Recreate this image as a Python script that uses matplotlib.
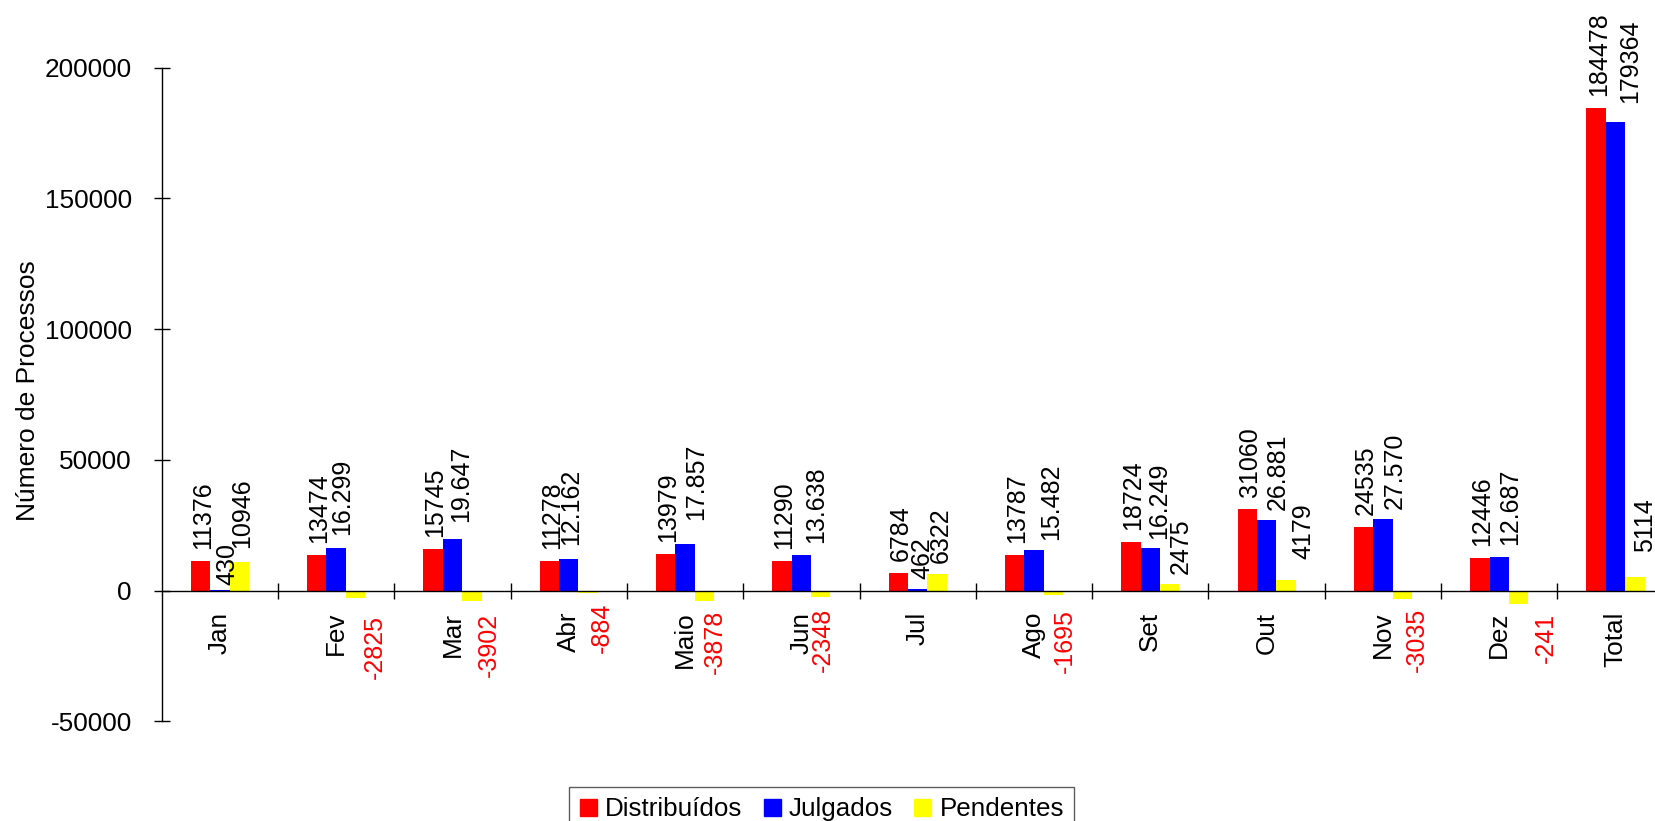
import numpy as np
import matplotlib
matplotlib.use('Agg')
import matplotlib.pyplot as plt
from matplotlib.patches import Patch
from matplotlib.ticker import FixedLocator, NullFormatter

plt.rcParams['font.family'] = ['Liberation Sans', 'DejaVu Sans']
plt.rcParams['axes.unicode_minus'] = False

# dados
meses = ['Jan', 'Fev', 'Mar', 'Abr', 'Maio', 'Jun', 'Jul', 'Ago', 'Set', 'Out', 'Nov', 'Dez', 'Total']
distribuidos = [11376, 13474, 15745, 11278, 13979, 11290, 6784, 13787, 18724, 31060, 24535, 12446, 184478]
julgados = [430, 16299, 19647, 12162, 17857, 13638, 462, 15482, 16249, 26881, 27570, 12687, 179364]
pendentes = [10946, -2825, -3902, -884, -3878, -2348, 6322, -1695, 2475, 4179, -3035, -5000, 5114]

rot_distribuidos = ['11376', '13474', '15745', '11278', '13979', '11290', '6784',
                    '13787', '18724', '31060', '24535', '12446', '184478']
rot_julgados = ['430', '16.299', '19.647', '12.162', '17.857', '13.638', '462',
                '15.482', '16.249', '26.881', '27.570', '12.687', '179364']
rot_pendentes = ['10946', '-2825', '-3902', '-884', '-3878', '-2348', '6322',
                 '-1695', '2475', '4179', '-3035', '-241', '5114']

# ajustes manuais dos rótulos (pixels): deslocamento lateral e distância da barra
dx_julg = [5, 3, 6, 0, 9, 12, 2, 15, 6, 9, 9, 8, 12]
gap_julg = [5, 13, 17, 14, 24, 12, 10, 10, 9, 10, 10, 12, 19]
dx_pend = [0, 17, 15, 11, 8, 0, 1, 9, 9, 15, 12, 25, 8]
gap_pend = [14, 17, 12, 10, 9, 11, 11, 14, 10, 21, 9, 9, 25]

DPI = 100
PX = 72 / DPI
FS_TICK = 18.8
FS_ROT = 18
SHIFT = 2.5

fig = plt.figure(figsize=(16.55, 8.21), dpi=DPI)
ax = fig.add_axes([161.7 / 1655, (821 - 721.4) / 821, 1512 / 1655, (721.4 - 67.7) / 821])

x = np.arange(len(meses))
w = 1 / 6
ax.bar(x - w, distribuidos, w, color='#FF0000', label='Distribuídos')
ax.bar(x, julgados, w, color='#0000FF', label='Julgados')
ax.bar(x + w, pendentes, w, color='#FFFF00', label='Pendentes')


def rotulo(xp, val, texto, dx, gap):
    if val >= 0:
        ax.annotate(texto, (xp, val), xytext=((dx + SHIFT) * PX, gap * PX),
                    textcoords='offset points', rotation=90, ha='center', va='bottom',
                    fontsize=FS_ROT, color='black')
    else:
        ax.annotate(texto, (xp, val), xytext=((dx + SHIFT) * PX, -gap * PX),
                    textcoords='offset points', rotation=90, ha='center', va='top',
                    fontsize=FS_ROT, color='#FF0000')


for i in range(len(meses)):
    rotulo(x[i] - w, distribuidos[i], rot_distribuidos[i], 0, 12)
    rotulo(x[i], julgados[i], rot_julgados[i], dx_julg[i], gap_julg[i])
    rotulo(x[i] + w, pendentes[i], rot_pendentes[i], dx_pend[i], gap_pend[i])

ax.set_xlim(-0.5, len(meses) - 0.5)
ax.set_ylim(-50000, 200000)

for s in ['top', 'right']:
    ax.spines[s].set_visible(False)
ax.spines['bottom'].set_position(('data', 0))
ax.spines['bottom'].set_linewidth(1.0)
ax.spines['left'].set_linewidth(1.0)

yt = [-50000, 0, 50000, 100000, 150000, 200000]
ax.set_yticks(yt)
ax.set_yticklabels([str(v) for v in yt], fontsize=FS_TICK)
ax.tick_params(axis='y', direction='inout', length=11.5, width=1.0, pad=15.8)

ax.set_xticks(x)
ax.set_xticklabels(meses, rotation=90, fontsize=FS_TICK)
ax.tick_params(axis='x', which='major', length=0, pad=15.1)
ax.xaxis.set_minor_locator(FixedLocator(np.arange(0.5, len(meses) - 0.5, 1)))
ax.xaxis.set_minor_formatter(NullFormatter())
ax.tick_params(axis='x', which='minor', direction='inout', length=11.5, width=1.0)

fig.text(28 / 1655, 1 - 391 / 821, 'Número de Processos', rotation=90,
         ha='center', va='center', fontsize=19)

handles = [Patch(color='#FF0000', label='Distribuídos'),
           Patch(color='#0000FF', label='Julgados'),
           Patch(color='#FFFF00', label='Pendentes')]
leg = fig.legend(handles=handles, loc='upper center', bbox_to_anchor=(0.4966, (821 - 787) / 821),
                 ncol=3, fontsize=18.7, frameon=True, fancybox=False, edgecolor='#333333',
                 handlelength=0.66, handleheight=0.66, handletextpad=0.31,
                 columnspacing=0.82, borderpad=0.4, borderaxespad=0)
leg.get_frame().set_linewidth(1.0)

fig.savefig('out.png', dpi=DPI)
